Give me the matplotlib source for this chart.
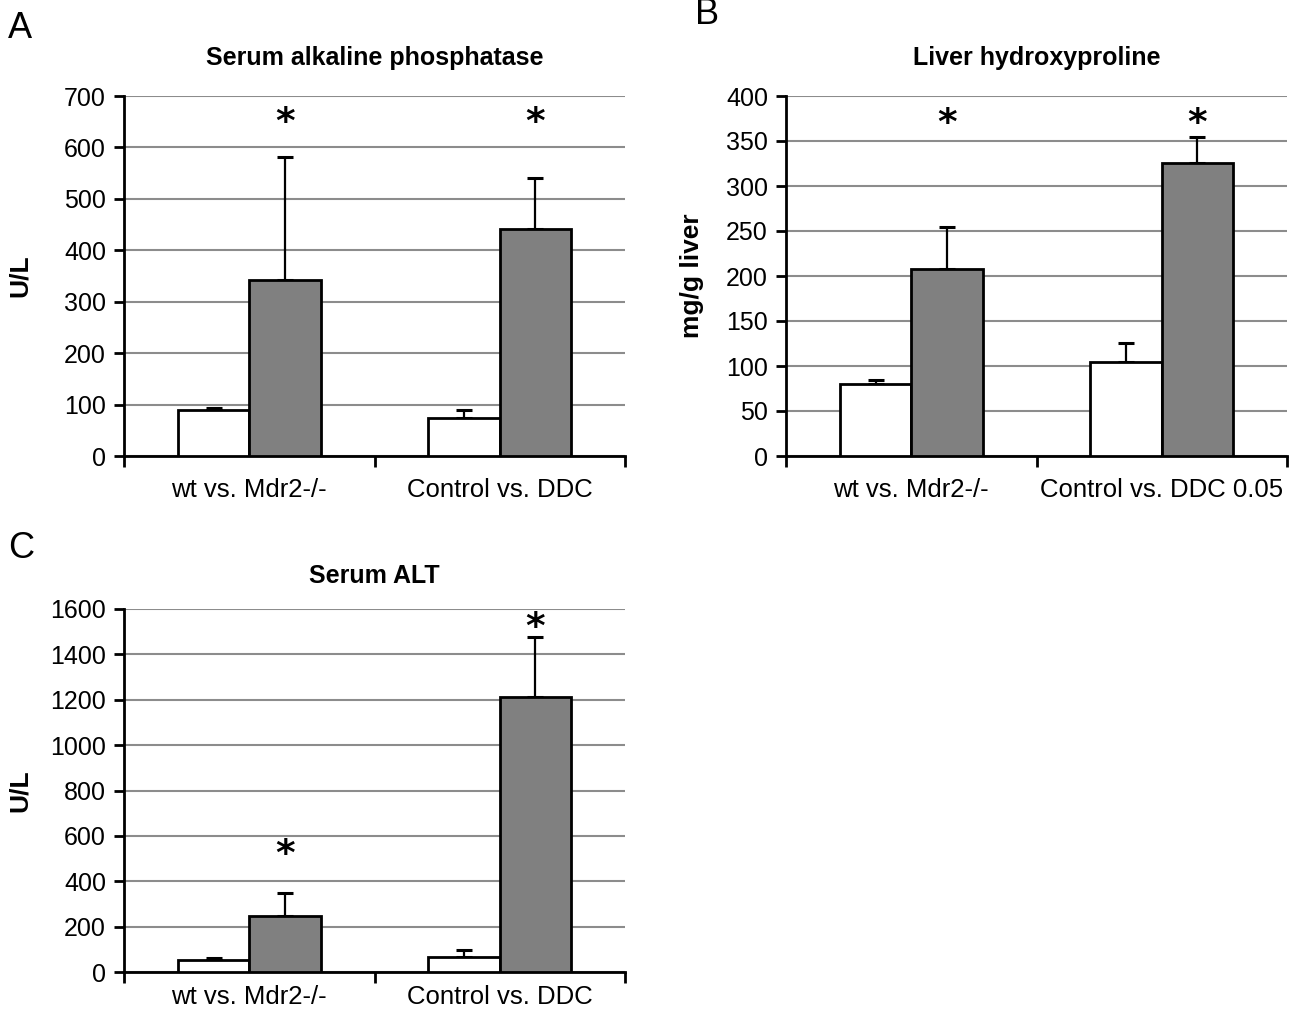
import numpy as np
import matplotlib
matplotlib.use("Agg")
import matplotlib.pyplot as plt

plt.rcParams['font.family'] = ['Liberation Sans', 'DejaVu Sans']

# data
alp_groups = ["wt vs. Mdr2-/-", "Control vs. DDC"]
alp_ctrl = [90, 74]
alp_ctrl_err = [3, 15]
alp_treat = [343, 442]
alp_treat_err = [238, 98]
alp_star = [663, 663]

hyp_groups = ["wt vs. Mdr2-/-", "Control vs. DDC 0.05"]
hyp_ctrl = [80, 104]
hyp_ctrl_err = [5, 22]
hyp_treat = [208, 326]
hyp_treat_err = [47, 29]
hyp_star = [378, 378]

alt_groups = ["wt vs. Mdr2-/-", "Control vs. DDC"]
alt_ctrl = [55, 66]
alt_ctrl_err = [8, 30]
alt_treat = [245, 1210]
alt_treat_err = [105, 266]
alt_star = [552, 1553]

W, H = 1305, 1016


def panel(rect, groups, ctrl, ctrl_err, treat, treat_err, stars,
          ymax, ystep, title, title_y, ylabel, ylabel_x, xpad):
    ax = fig.add_axes([rect[0] / W, 1 - rect[3] / H,
                       (rect[2] - rect[0]) / W, (rect[3] - rect[1]) / H])
    x = np.arange(len(groups))
    bw = 0.285
    ax.bar(x - bw / 2, ctrl, bw, color='white', edgecolor='black', linewidth=2, zorder=3)
    ax.bar(x + bw / 2, treat, bw, color='#808080', edgecolor='black', linewidth=2, zorder=3)
    ax.errorbar(x - bw / 2, ctrl, yerr=[np.zeros(len(ctrl)), ctrl_err], fmt='none',
                ecolor='black', elinewidth=1.6, capsize=5.5, capthick=2.2, zorder=2)
    ax.errorbar(x + bw / 2, treat, yerr=[np.zeros(len(treat)), treat_err], fmt='none',
                ecolor='black', elinewidth=1.6, capsize=5.5, capthick=2.2, zorder=2)
    for xi, s in zip(x, stars):
        ax.annotate('*', (xi + bw / 2, s), xytext=(0, -6), textcoords='offset points',
                    ha='center', va='center', fontsize=27, fontweight='bold',
                    family='DejaVu Sans')
    ax.set_xlim(-0.5, len(groups) - 0.5)
    ax.set_ylim(0, ymax)
    ax.set_yticks(np.arange(0, ymax + 1, ystep))
    ax.yaxis.grid(True, color='#8c8c8c', linewidth=1.5, zorder=0)
    ax.set_axisbelow(True)
    ax.set_xticks(np.arange(-0.5, len(groups)))
    ax.set_xticklabels([])
    ax.set_xticks(x, minor=True)
    ax.set_xticklabels(groups, minor=True)
    ax.tick_params(axis='x', which='minor', length=0, labelsize=18.5, pad=xpad)
    ax.tick_params(axis='x', which='major', length=8, width=2)
    ax.tick_params(axis='y', length=7, width=2, labelsize=18, pad=6)
    for s in ['top', 'right']:
        ax.spines[s].set_visible(False)
    for s in ['left', 'bottom']:
        ax.spines[s].set_linewidth(2)
    cx = (rect[0] + rect[2]) / 2
    fig.text(cx / W, 1 - title_y / H, title, fontsize=18, fontweight='bold',
             ha='center', va='center')
    ax.set_ylabel(ylabel, fontsize=19, fontweight='bold')
    ax.yaxis.set_label_coords((ylabel_x - rect[0]) / (rect[2] - rect[0]), 0.5)
    return ax


fig = plt.figure(figsize=(W / 100, H / 100), dpi=100)

panel((124, 96, 625, 456), alp_groups, alp_ctrl, alp_ctrl_err, alp_treat,
      alp_treat_err, alp_star, 700, 100, "Serum alkaline phosphatase", 58, "U/L", 32, 16)
panel((786, 96, 1287, 456), hyp_groups, hyp_ctrl, hyp_ctrl_err, hyp_treat,
      hyp_treat_err, hyp_star, 400, 50, "Liver hydroxyproline", 58, "mg/g liver", 704, 16)
panel((124, 609, 625, 972), alt_groups, alt_ctrl, alt_ctrl_err, alt_treat,
      alt_treat_err, alt_star, 1600, 200, "Serum ALT", 576, "U/L", 32, 9)

fig.text(8 / W, 1 - 28 / H, 'A', fontsize=26, va='center', ha='left')
fig.text(695 / W, 1 - 14 / H, 'B', fontsize=26, va='center', ha='left')
fig.text(8 / W, 1 - 548 / H, 'C', fontsize=26, va='center', ha='left')

fig.savefig('out.png', dpi=100)
